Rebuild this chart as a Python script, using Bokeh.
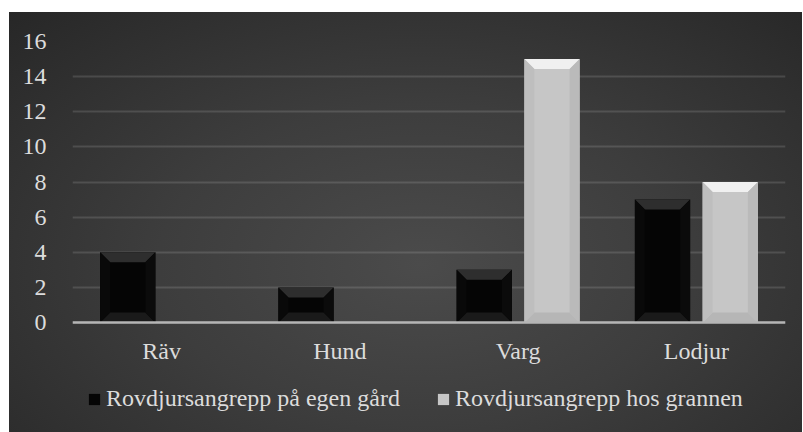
from bokeh.plotting import figure
from bokeh.models import FixedTicker, Legend, LegendItem, Span
from bokeh.core.properties import value
from bokeh.embed import file_html
from bokeh.resources import INLINE

categories = ["Räv", "Hund", "Varg", "Lodjur"]
egen_gard = [4, 2, 3, 7]
hos_grannen = [0, 0, 15, 8]
series_names = ["Rovdjursangrepp på egen gård", "Rovdjursangrepp hos grannen"]
y_ticks = [0, 2, 4, 6, 8, 10, 12, 14, 16]

FONT = "Liberation Serif"
TEXT_COLOR = "#dcdcdc"

# geometry (pixels)
FRAME_W = 713
PLOT_H = 281          # pixel height of the 0..16 value span
BELOW = 110           # pixel room below the zero line (labels + legend)
px_x = FRAME_W / 4.0
px_y = PLOT_H / 16.0
y_min = -BELOW / px_y

p = figure(width=793, height=420, x_range=(0, 4), y_range=(y_min, 16),
           output_backend="svg", toolbar_location=None,
           min_border_left=63, min_border_right=17, min_border_top=29,
           min_border_bottom=0, margin=(12, 0, 0, 9))
p.background_fill_color = None
p.border_fill_color = None
p.outline_line_color = None
p.styles = {"background": "radial-gradient(ellipse at 52% 60%, #4b4b4b 0%, #3d3d3d 45%, #272727 100%)"}

offset = 0.19
bar_w = 0.31
x_cat = [i + 0.5 for i in range(len(categories))]
x_egen = [x - offset for x in x_cat]
x_gran = [x + offset for x in x_cat]

# grid
p.xgrid.visible = False
p.ygrid.grid_line_color = "#ffffff"
p.ygrid.grid_line_alpha = 0.13
p.ygrid.grid_line_width = 2
p.ygrid.ticker = FixedTicker(ticks=y_ticks)

r1 = p.vbar(x=x_egen, top=egen_gard, width=bar_w, fill_color="#050505", line_color=None)
r2 = p.vbar(x=x_gran, top=hos_grannen, width=bar_w, fill_color="#c6c6c6", line_color=None)

# bevel decoration (screen-size bevel converted to data units)
bev = 10
bx = bev / px_x
by = bev / px_y


def bevels(xc, vals, cols):
    xs, ys, cs = [], [], []
    for x, v in zip(xc, vals):
        if v <= 0:
            continue
        x0, x1 = x - bar_w / 2, x + bar_w / 2
        top, bottom, left, right = cols
        xs += [[x0, x1, x1 - bx, x0 + bx], [x0, x1, x1 - bx, x0 + bx],
               [x0, x0, x0 + bx, x0 + bx], [x1, x1, x1 - bx, x1 - bx]]
        ys += [[v, v, v - by, v - by], [0, 0, by, by],
               [0, v, v - by, by], [0, v, v - by, by]]
        cs += [top, bottom, left, right]
    return xs, ys, cs


xs, ys, cs = bevels(x_egen, egen_gard, ("#2e2e2e", "#1a1a1a", "#090909", "#0b0b0b"))
p.patches(xs, ys, fill_color=cs, line_color=None)
xs, ys, cs = bevels(x_gran, hos_grannen, ("#f0f0f0", "#b6b6b6", "#bebebe", "#bababa"))
p.patches(xs, ys, fill_color=cs, line_color=None)

# zero (category) axis line
p.add_layout(Span(location=0, dimension="width", line_color="#b5b5b5", line_width=2.5))

# category labels
p.text(x=x_cat, y=[-28 / px_y] * len(categories), text=categories,
       text_font=value(FONT), text_font_size="24px", text_color=TEXT_COLOR,
       text_align="center", text_baseline="middle")

p.xaxis.visible = False

p.yaxis.ticker = FixedTicker(ticks=y_ticks)
p.yaxis.axis_line_color = None
p.yaxis.major_tick_line_color = None
p.yaxis.minor_tick_line_color = None
p.yaxis.major_label_standoff = 20
p.yaxis.major_label_text_font = FONT
p.yaxis.major_label_text_font_size = "24px"
p.yaxis.major_label_text_color = TEXT_COLOR

legend = Legend(items=[LegendItem(label=series_names[0], renderers=[r1]),
                       LegendItem(label=series_names[1], renderers=[r2])],
                orientation="horizontal", location=(15, 20),
                label_text_font=FONT, label_text_font_size="24px",
                label_text_color=TEXT_COLOR, background_fill_alpha=0,
                border_line_alpha=0, glyph_width=14, glyph_height=14,
                label_standoff=5, spacing=36, margin=0, padding=0)
p.add_layout(legend, "center")

open("out.html", "w").write(file_html(p, INLINE))
